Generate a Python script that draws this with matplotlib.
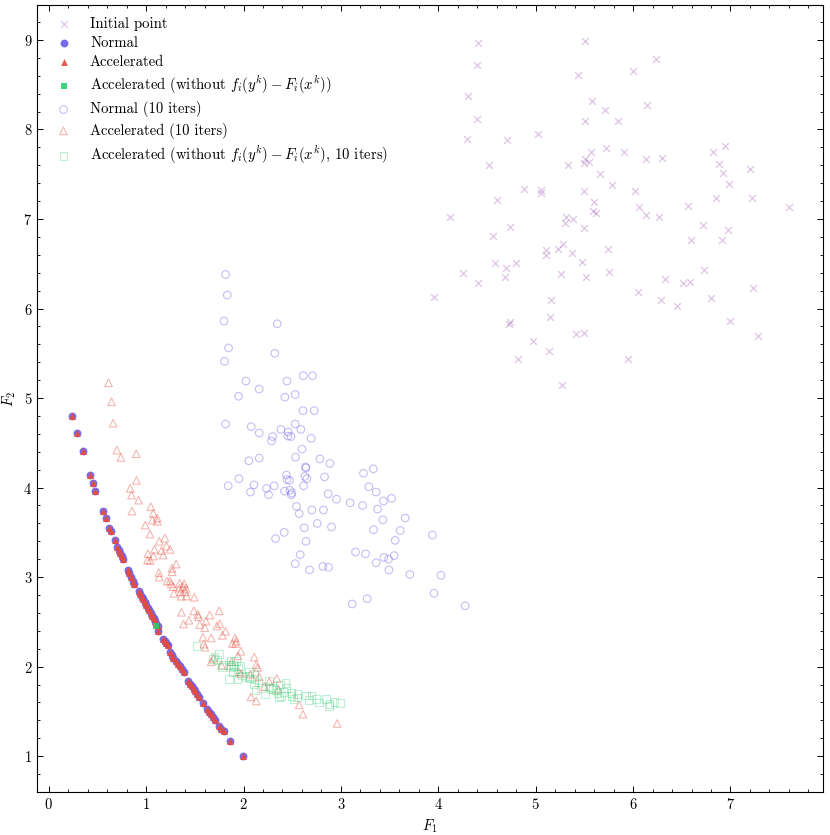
import numpy as np
import matplotlib.pyplot as plt

plt.rcParams['font.family'] = 'serif'
plt.rcParams['font.serif'] = ['cmr10', 'DejaVu Serif']
plt.rcParams['mathtext.fontset'] = 'cm'
plt.rcParams['axes.formatter.use_mathtext'] = True
plt.rcParams['axes.unicode_minus'] = False

# Initial points (F1, F2)
init_f1 = [4.41, 5.51, 6.24, 4.40, 5.43, 6.00, 4.31, 5.58, 5.71, 6.14,
           4.40, 5.51, 5.85, 5.02, 4.29, 4.71, 6.94, 5.72, 6.82, 5.57,
           5.91, 5.51, 5.50, 5.55, 6.13, 6.30, 4.52, 5.33, 6.88, 7.20,
           6.92, 5.66, 5.78, 6.98, 4.88, 5.05, 5.05, 5.50, 6.02, 4.60,
           5.60, 6.85, 7.22, 6.56, 6.06, 7.60, 5.59, 5.62, 6.13, 4.12,
           5.31, 5.38, 6.27, 5.30, 4.74, 5.50, 6.72, 6.97, 4.56, 6.59,
           6.91, 5.28, 5.11, 5.11, 5.23, 5.37, 5.74, 5.48, 4.58, 4.70,
           4.80, 4.25, 5.26, 5.52, 5.75, 4.68, 4.41, 6.73, 6.33, 6.51,
           6.58, 3.96, 5.16, 6.05, 6.29, 6.45, 6.80, 7.23, 5.15, 4.73,
           4.74, 7.00, 7.28, 4.97, 5.41, 5.50, 5.14, 4.82, 5.95, 5.27]
init_f2 = [8.97, 8.99, 8.79, 8.72, 8.61, 8.65, 8.37, 8.32, 8.22, 8.27,
           8.12, 8.09, 8.10, 7.95, 7.89, 7.88, 7.82, 7.79, 7.75, 7.75,
           7.75, 7.67, 7.63, 7.64, 7.67, 7.68, 7.60, 7.60, 7.61, 7.56,
           7.51, 7.50, 7.38, 7.39, 7.33, 7.32, 7.29, 7.31, 7.31, 7.21,
           7.19, 7.24, 7.23, 7.15, 7.13, 7.13, 7.09, 7.07, 7.05, 7.02,
           7.02, 7.00, 7.02, 6.95, 6.91, 6.90, 6.93, 6.88, 6.81, 6.77,
           6.77, 6.72, 6.65, 6.60, 6.66, 6.62, 6.66, 6.52, 6.51, 6.45,
           6.51, 6.40, 6.39, 6.35, 6.41, 6.35, 6.29, 6.43, 6.33, 6.29,
           6.30, 6.13, 6.09, 6.18, 6.09, 6.03, 6.12, 6.23, 5.90, 5.83,
           5.85, 5.86, 5.69, 5.64, 5.71, 5.73, 5.53, 5.44, 5.44, 5.15]

# Converged points (normal and accelerated end up on the same front)
front_f1 = [0.241, 0.293, 0.347, 0.426, 0.454, 0.480, 0.560, 0.587, 0.624, 0.639,
            0.676, 0.706, 0.721, 0.735, 0.749, 0.760, 0.813, 0.829, 0.846, 0.862,
            0.878, 0.922, 0.938, 0.955, 0.969, 0.986, 1.001, 1.016, 1.031, 1.046,
            1.061, 1.076, 1.091, 1.104, 1.118, 1.127, 1.178, 1.192, 1.207, 1.220,
            1.247, 1.264, 1.281, 1.306, 1.326, 1.345, 1.364, 1.384, 1.435, 1.452,
            1.470, 1.488, 1.505, 1.523, 1.540, 1.581, 1.624, 1.644, 1.664, 1.684,
            1.704, 1.747, 1.772, 1.797, 1.863, 1.992]
front_f2 = [4.80, 4.605, 4.407, 4.144, 4.050, 3.965, 3.734, 3.660, 3.545, 3.520,
            3.418, 3.336, 3.300, 3.266, 3.232, 3.204, 3.081, 3.041, 3.000, 2.960,
            2.920, 2.842, 2.812, 2.780, 2.751, 2.720, 2.690, 2.660, 2.630, 2.601,
            2.570, 2.540, 2.509, 2.478, 2.450, 2.398, 2.306, 2.285, 2.263, 2.242,
            2.164, 2.132, 2.100, 2.064, 2.033, 2.002, 1.971, 1.941, 1.840, 1.811,
            1.781, 1.752, 1.723, 1.694, 1.664, 1.589, 1.532, 1.499, 1.466, 1.433,
            1.400, 1.338, 1.307, 1.276, 1.173, 0.997]

# Accelerated without f_i(y^k) - F_i(x^k)
nofix_f1 = [1.10]
nofix_f2 = [2.451]

# Normal (10 iters)
n10_f1 = [1.815, 1.833, 1.800, 2.346, 1.846, 2.322, 1.805, 2.613, 2.708, 2.025,
          2.446, 2.161, 1.949, 2.425, 2.531, 2.610, 2.726, 1.815, 2.079, 2.531,
          2.161, 2.384, 2.589, 2.459, 2.298, 2.456, 2.487, 2.695, 2.287, 2.600,
          2.055, 2.161, 2.534, 2.784, 2.887, 2.637, 2.641, 1.953, 1.843, 2.107,
          2.072, 2.236, 2.257, 2.315, 2.441, 2.446, 2.472, 2.421, 2.476, 2.497,
          2.490, 2.630, 2.651, 2.616, 2.832, 3.232, 3.332, 3.287, 3.362, 2.870,
          2.955, 3.095, 3.222, 3.437, 3.520, 3.376, 2.544, 2.572, 2.702, 2.821,
          3.431, 3.660, 2.623, 2.757, 2.904, 3.335, 3.609, 2.418, 2.329, 2.641,
          3.557, 3.940, 2.582, 2.531, 2.678, 2.815, 2.873, 3.150, 3.253, 3.362,
          3.441, 3.489, 3.547, 3.493, 3.708, 4.027, 3.955, 3.116, 3.270, 4.276]
n10_f2 = [6.38, 6.15, 5.86, 5.83, 5.56, 5.50, 5.41, 5.25, 5.25, 5.19,
          5.19, 5.10, 5.02, 5.01, 5.04, 4.86, 4.86, 4.71, 4.68, 4.71,
          4.61, 4.65, 4.65, 4.62, 4.57, 4.575, 4.57, 4.55, 4.52, 4.43,
          4.30, 4.33, 4.34, 4.32, 4.27, 4.23, 4.22, 4.10, 4.02, 4.03,
          3.95, 3.99, 3.92, 4.02, 4.14, 4.09, 4.08, 3.96, 3.97, 3.94,
          3.92, 4.125, 4.10, 4.02, 4.12, 4.16, 4.21, 4.01, 3.95, 3.93,
          3.87, 3.83, 3.80, 3.85, 3.88, 3.76, 3.79, 3.71, 3.75, 3.75,
          3.64, 3.66, 3.55, 3.60, 3.56, 3.53, 3.52, 3.50, 3.43, 3.40,
          3.41, 3.47, 3.25, 3.15, 3.08, 3.12, 3.11, 3.28, 3.26, 3.16,
          3.22, 3.20, 3.24, 3.08, 3.03, 3.02, 2.82, 2.70, 2.76, 2.68]

# Accelerated (10 iters)
a10_f1 = [0.614, 0.645, 0.662, 0.700, 0.741, 0.898, 0.901, 0.837, 0.850, 0.922,
          0.854, 1.049, 1.073, 1.063, 1.114, 1.114, 0.991, 1.039, 1.135, 1.193,
          1.086, 1.158, 1.209, 1.247, 1.018, 1.176, 1.076, 1.014, 1.042, 1.309,
          1.265, 1.131, 1.268, 1.135, 1.214, 1.244, 1.258, 1.278, 1.343, 1.391,
          1.378, 1.343, 1.409, 1.285, 1.355, 1.405, 1.360, 1.415, 1.494, 1.363,
          1.489, 1.439, 1.384, 1.530, 1.538, 1.653, 1.550, 1.615, 1.602, 1.751,
          1.756, 1.727, 1.815, 1.784, 1.583, 1.668, 1.594, 1.605, 1.913, 1.925,
          1.886, 1.918, 1.973, 1.943, 1.692, 1.668, 2.110, 1.877, 2.130, 2.144,
          1.774, 1.953, 1.973, 2.069, 2.161, 2.213, 2.343, 2.264, 2.359, 2.076,
          2.130, 2.572, 2.610, 2.962]
a10_f2 = [5.17, 4.959, 4.72, 4.418, 4.337, 4.378, 4.08, 3.991, 3.916, 3.86,
          3.738, 3.787, 3.712, 3.637, 3.66, 3.623, 3.581, 3.481, 3.40, 3.436,
          3.31, 3.296, 3.347, 3.31, 3.262, 3.247, 3.235, 3.191, 3.184, 3.146,
          3.098, 3.05, 3.061, 3.001, 2.956, 2.956, 2.925, 2.894, 2.931, 2.927,
          2.894, 2.878, 2.875, 2.819, 2.836, 2.836, 2.786, 2.789, 2.775, 2.607,
          2.622, 2.518, 2.477, 2.585, 2.559, 2.576, 2.47, 2.507, 2.436, 2.624,
          2.479, 2.454, 2.395, 2.35, 2.328, 2.32, 2.252, 2.217, 2.32, 2.283,
          2.259, 2.258, 2.172, 2.122, 2.094, 2.055, 2.108, 2.057, 2.023, 1.99,
          2.016, 1.941, 1.923, 1.915, 1.889, 1.778, 1.867, 1.834, 1.748, 1.662,
          1.617, 1.573, 1.469, 1.365]

# Accelerated without f_i(y^k) - F_i(x^k) (10 iters)
nf10_f1 = [1.517, 1.751, 1.702, 1.686, 1.733, 1.789, 1.778, 1.867, 1.925, 1.891,
           1.874, 1.846, 1.901, 1.969, 1.943, 1.891, 1.850, 1.938, 2.059, 2.055,
           2.113, 2.069, 2.021, 1.987, 2.113, 2.107, 2.154, 2.123, 2.182, 2.261,
           2.267, 2.223, 2.281, 2.329, 2.349, 2.377, 2.431, 2.441, 2.411, 2.384,
           2.363, 2.493, 2.493, 2.513, 2.554, 2.548, 2.644, 2.698, 2.671, 2.743,
           2.777, 2.846, 2.883, 2.880, 2.934, 2.993, 2.302]
nf10_f2 = [2.235, 2.146, 2.113, 2.086, 2.071, 2.016, 1.997, 2.064, 2.064, 2.016,
           1.993, 2.016, 2.004, 2.008, 1.971, 1.941, 1.863, 1.859, 1.941, 1.896,
           1.923, 1.867, 1.889, 1.901, 1.859, 1.800, 1.823, 1.737, 1.759, 1.845,
           1.773, 1.692, 1.748, 1.740, 1.706, 1.800, 1.815, 1.759, 1.718, 1.670,
           1.655, 1.706, 1.670, 1.636, 1.695, 1.655, 1.677, 1.677, 1.625, 1.636,
           1.599, 1.636, 1.584, 1.558, 1.606, 1.592, 1.762]

c_init = '#9b59b6'
c_norm = '#6c5ce7'
c_acc = '#e74c3c'
c_nof = '#2ecc71'

fig = plt.figure(figsize=(8.3, 8.35), dpi=100)
ax = fig.add_axes([0.0446, 0.0515, 0.947, 0.9425])

ax.scatter(init_f1, init_f2, marker='x', s=25, color=c_init, alpha=0.35,
           linewidths=0.9, label='Initial point')
ax.scatter(front_f1, front_f2, marker='o', s=32, color=c_norm, alpha=0.9,
           linewidths=0, label='Normal')
ax.scatter(front_f1, front_f2, marker='^', s=25, color=c_acc, alpha=0.9,
           linewidths=0, label='Accelerated')
ax.scatter(nofix_f1, nofix_f2, marker='s', s=25, color=c_nof, alpha=0.9,
           linewidths=0, label=r'Accelerated (without $f_i(y^k) - F_i(x^k)$)')
ax.scatter(n10_f1, n10_f2, marker='o', s=30, facecolors='none', edgecolors=c_norm,
           alpha=0.4, linewidths=0.8, label='Normal (10 iters)')
ax.scatter(a10_f1, a10_f2, marker='^', s=30, facecolors='none', edgecolors=c_acc,
           alpha=0.4, linewidths=0.8, label='Accelerated (10 iters)')
ax.scatter(nf10_f1, nf10_f2, marker='s', s=32, facecolors='none', edgecolors=c_nof,
           alpha=0.3, linewidths=0.8,
           label=r'Accelerated (without $f_i(y^k) - F_i(x^k)$, 10 iters)')

ax.set_xlim(-0.12, 7.95)
ax.set_ylim(0.6, 9.39)
ax.set_xticks(range(0, 8))
ax.set_yticks(range(1, 10))
ax.set_xticks(np.arange(-0.0, 7.95, 0.2), minor=True)
ax.set_yticks(np.arange(0.6, 9.39, 0.2), minor=True)
ax.tick_params(which='both', direction='in', top=True, right=True, labelsize=10.5)
ax.tick_params(which='major', length=4, width=0.7)
ax.tick_params(which='minor', length=2, width=0.6)
for sp in ax.spines.values():
    sp.set_linewidth(0.8)

ax.set_xlabel(r'$F_1$', fontsize=10.5, labelpad=4)
ax.set_ylabel(r'$F_2$', fontsize=10.5, labelpad=4)
ax.legend(loc='upper left', frameon=False, fontsize=10.6, labelspacing=0.36,
          borderaxespad=0.4)

fig.savefig('out.png', dpi=100)
